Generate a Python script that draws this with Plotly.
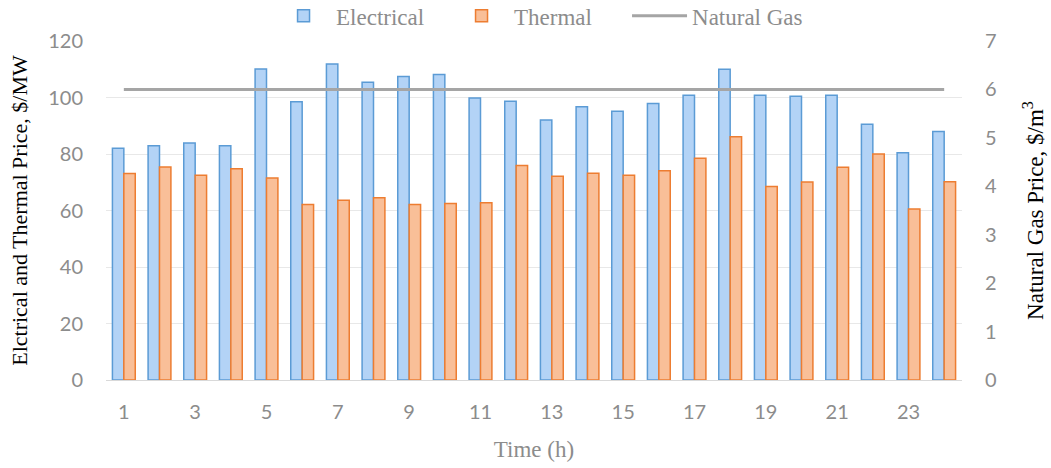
import plotly.graph_objects as go

hours = list(range(1, 25))
electrical = [82.0, 82.9, 83.9, 82.9, 110.1, 98.5, 111.9, 105.4,
              107.4, 108.1, 99.8, 98.7, 92.0, 96.7, 95.1, 97.9,
              100.8, 110.0, 100.8, 100.4, 100.8, 90.5, 80.4, 88.0]
thermal = [73.1, 75.4, 72.5, 74.8, 71.5, 62.1, 63.6, 64.5,
           62.1, 62.5, 62.7, 75.9, 72.1, 73.2, 72.5, 74.1,
           78.5, 86.1, 68.5, 70.1, 75.3, 80.0, 60.5, 70.2]
gas_price = [6.0] * 24
x_ticks = list(range(1, 24, 2))

tick_font = dict(family="Lato, 'Open Sans', sans-serif", size=20, color="#8c8c8c")
serif = "'Liberation Serif', 'DejaVu Serif', serif"

fig = go.Figure()
fig.add_trace(go.Bar(
    x=hours, y=electrical, name="Electrical",
    marker=dict(color="#b3d3f6", line=dict(color="#5b9bd5", width=1.5)),
))
fig.add_trace(go.Bar(
    x=hours, y=thermal, name="Thermal",
    marker=dict(color="#f9bf98", line=dict(color="#ed7d31", width=1.5)),
))
fig.add_trace(go.Scatter(
    x=hours, y=gas_price, name="Natural Gas", mode="lines",
    line=dict(color="#a5a5a5", width=3), yaxis="y2",
))

fig.update_layout(
    width=1051, height=468,
    margin=dict(l=106, r=89, t=41, b=88, autoexpand=False),
    paper_bgcolor="white", plot_bgcolor="white",
    barmode="group", bargap=0.36, bargroupgap=0,
    showlegend=True,
    legend=dict(
        orientation="h", x=0.1928, xanchor="left", y=1.074, yanchor="middle",
        font=dict(family=serif, size=23, color="#8c8c8c"),
        traceorder="normal", itemwidth=55,
        entrywidth=108, entrywidthmode="pixels",
    ),
    xaxis=dict(
        range=[0.5, 24.5], tickvals=x_ticks, ticktext=[str(v) for v in x_ticks],
        tickfont=tick_font, showgrid=False, zeroline=False,
        showline=True, linecolor="#d9d9d9", linewidth=1,
        ticks="", ticklabelstandoff=14,
        title=dict(text="Time (h)", font=dict(family=serif, size=23, color="#8c8c8c"), standoff=18),
    ),
    yaxis=dict(
        range=[0, 120], tickvals=[0, 20, 40, 60, 80, 100, 120],
        tickfont=tick_font, showgrid=True, gridcolor="#e8e8e8", zeroline=False,
        ticks="", ticklabelstandoff=22,
        title=dict(text="Elctrical and Thermal Price, $/MW",
                   font=dict(family=serif, size=22, color="black"), standoff=14),
    ),
    yaxis2=dict(
        range=[0, 7], tickvals=list(range(0, 8)), overlaying="y", side="right",
        tickfont=tick_font, showgrid=False, zeroline=False,
        ticks="", ticklabelstandoff=22,
        title=dict(text="Natural Gas Price, $/m<sup>3</sup>",
                   font=dict(family=serif, size=23, color="black"), standoff=30),
    ),
)

fig.write_html("out.html")
